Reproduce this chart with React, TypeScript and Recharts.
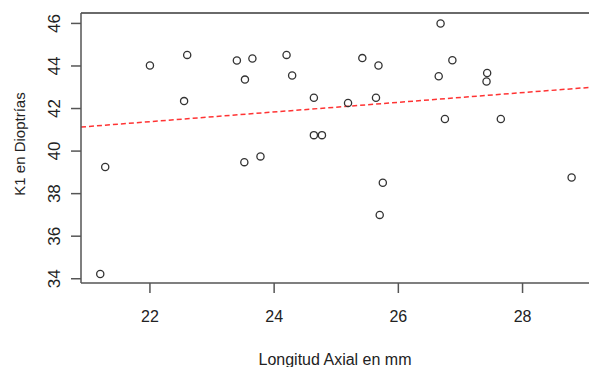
import {
  ScatterChart,
  Scatter,
  XAxis,
  YAxis,
  ReferenceLine,
  Label,
} from "recharts";

// axial length (mm) and K1 (dioptres) per eye
const axialLength = [
  21.2, 21.28, 22.0, 22.55, 22.6, 23.4, 23.52, 23.53, 23.65, 23.78,
  24.2, 24.29, 24.64, 24.64, 24.77, 25.19, 25.42, 25.64, 25.68, 25.7,
  25.75, 26.65, 26.68, 26.75, 26.87, 27.42, 27.43, 27.65, 28.79,
];
const k1 = [
  34.22, 39.25, 44.02, 42.35, 44.52, 44.26, 39.48, 43.36, 44.35, 39.75,
  44.52, 43.55, 42.51, 40.75, 40.75, 42.26, 44.37, 42.51, 44.02, 37.0,
  38.51, 43.52, 46.0, 41.51, 44.27, 43.27, 43.67, 41.51, 38.76,
];

const xTicks = [22, 24, 26, 28];
const yTicks = [34, 36, 38, 40, 42, 44, 46];

// lm(K1 ~ axial length)
const intercept = 36.38;
const slope = 0.2274;

const X_MIN = 20.89;
const X_MAX = 29.07;
const Y_MIN = 33.8;
const Y_MAX = 46.49;

const points = axialLength.map((x, i) => ({ x, y: k1[i] }));
const fit = [X_MIN, X_MAX].map((x) => ({ x, y: intercept + slope * x }));

const FONT = "'Liberation Sans', Arial, sans-serif";
const AXIS = "#555";

function YTick({ x, y, payload }: any) {
  return (
    <text
      x={x}
      y={y}
      transform={`rotate(-90, ${x}, ${y})`}
      textAnchor="middle"
      fontSize={17}
      fontFamily={FONT}
      fill="#222"
    >
      {payload.value}
    </text>
  );
}

function YTitle() {
  return (
    <text
      x={25}
      y={144}
      transform="rotate(-90, 25, 144)"
      textAnchor="middle"
      fontSize={15}
      fontFamily={FONT}
      fill="#222"
    >
      K1 en Dioptrías
    </text>
  );
}

function Ring({ cx, cy }: any) {
  return <circle cx={cx} cy={cy} r={3.6} fill="none" stroke="#333" strokeWidth={1.3} />;
}

export default function App() {
  return (
    <div style={{ position: "absolute", left: 0, top: 0, background: "#fff" }}>
      <ScatterChart
        width={589}
        height={367}
        margin={{ top: 13, right: 0, bottom: 0, left: 0 }}
      >
        <XAxis
          type="number"
          dataKey="x"
          domain={[X_MIN, X_MAX]}
          ticks={xTicks}
          allowDataOverflow
          height={84}
          tickSize={10}
          tickMargin={18}
          stroke={AXIS}
          strokeWidth={1.5}
          tick={{ fontSize: 16, fontFamily: FONT, fill: "#222" }}
        >
          <Label
            value="Longitud Axial en mm"
            position="insideBottom"
            offset={2}
            fontSize={16}
            fontFamily={FONT}
            fill="#222"
          />
        </XAxis>
        <YAxis
          type="number"
          dataKey="y"
          domain={[Y_MIN, Y_MAX]}
          ticks={yTicks}
          allowDataOverflow
          width={81}
          tickSize={10}
          tickMargin={11}
          stroke={AXIS}
          strokeWidth={1.5}
          tick={<YTick />}
        >
          <Label content={<YTitle />} />
        </YAxis>
        <ReferenceLine y={Y_MAX} stroke="#6a6a6a" strokeWidth={2} />
        <ReferenceLine
          segment={fit}
          stroke="#ff3333"
          strokeWidth={1.5}
          strokeDasharray="5 3"
        />
        <Scatter data={points} shape={<Ring />} isAnimationActive={false} />
      </ScatterChart>
    </div>
  );
}
